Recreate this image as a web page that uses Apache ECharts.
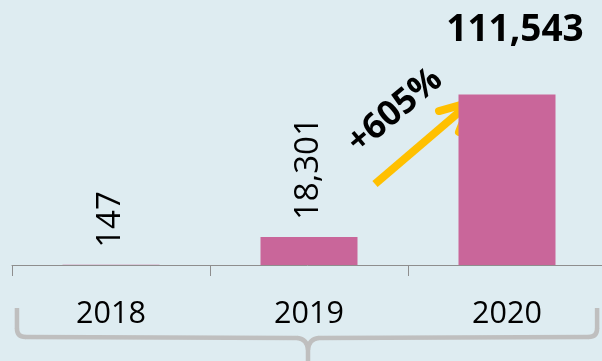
<!DOCTYPE html>
<html>
<head>
<meta charset="utf-8">
<script src="https://cdn.jsdelivr.net/npm/echarts@6/dist/echarts.min.js"></script>
<style>
  html, body { margin: 0; padding: 0; background: #deecf1; }
  #chart { width: 602px; height: 361px; }
</style>
</head>
<body>
<div id="chart"></div>
<script>
// Yearly totals
const years = ['2018', '2019', '2020'];
const totals = [147, 18301, 111543];
const growthText = '+605%';

const FONT = '"Open Sans", "Noto Sans", sans-serif';
const fmt = v => String(v).replace(/\B(?=(\d{3})+(?!\d))/g, ',');

const chart = echarts.init(document.getElementById('chart'), null, { renderer: 'canvas' });

const barData = totals.map((v, i) => {
  if (i === totals.length - 1) {
    // latest year: horizontal bold label well above the bar
    return {
      value: v,
      label: {
        rotate: 0, align: 'center', verticalAlign: 'bottom',
        distance: 46, offset: [8, 0],
        fontWeight: 'bold', fontSize: 37
      }
    };
  }
  return v;
});

chart.setOption({
  backgroundColor: '#deecf1',
  animation: false,
  grid: { left: 12, width: 594, top: 0, bottom: 96, containLabel: false, outerBoundsMode: 'none' },
  xAxis: {
    type: 'category',
    data: years,
    axisLine: { show: true, lineStyle: { color: '#8e8e8e', width: 1 } },
    axisTick: { show: true, length: 11, lineStyle: { color: '#8e8e8e', width: 1 } },
    axisLabel: { color: '#000', fontFamily: FONT, fontSize: 30.5, margin: 34 }
  },
  yAxis: { type: 'value', min: 0, max: 173400, show: false, splitLine: { show: false } },
  series: [{
    type: 'bar',
    data: barData,
    barWidth: 97,
    itemStyle: { color: '#c9669a' },
    label: {
      show: true,
      position: 'top',
      rotate: 90,
      align: 'left',
      verticalAlign: 'middle',
      distance: 17,
      fontFamily: FONT,
      fontSize: 33,
      color: '#000',
      formatter: p => fmt(p.value)
    }
  }]
});

// Annotations placed relative to the plotted bars
const top2020 = chart.convertToPixel({ gridIndex: 0 }, ['2020', totals[2]]);
const axisY = chart.convertToPixel({ gridIndex: 0 }, ['2018', 0])[1];
const c2018 = chart.convertToPixel({ gridIndex: 0 }, ['2018', 0])[0];
const c2020 = top2020[0];
const step = (c2020 - c2018) / 2;

// growth arrow
const tip = [top2020[0] - 36, top2020[1] + 7.5];
const tail = [tip[0] - 96, tip[1] + 82];
const armA = [tip[0] - 32, tip[1] + 9];
const armB = [tip[0] - 12, tip[1] + 30];

// curly brace spanning all categories
const bl = c2018 - step * 0.475;
const br = c2020 + step * 0.455;
const bm = (c2018 + c2020) / 2 - 1;
const bTop = axisY + 43, bY = axisY + 72, bMidY = axisY + 74;
const braceStyle = { stroke: '#bfbfbf', lineWidth: 4.5, fill: null, lineCap: 'butt', lineJoin: 'round' };

function braceHalf(edge, dir) {
  // dir = +1 for the left half, -1 for the right half
  return [
    { type: 'polyline', silent: true, shape: { points: [[edge, bTop], [edge, bY - 8]] }, style: braceStyle },
    { type: 'bezierCurve', silent: true, shape: { x1: edge, y1: bY - 8.5, cpx1: edge, cpy1: bY, x2: edge + dir * 8.5, y2: bY }, style: braceStyle },
    { type: 'polyline', silent: true, shape: { points: [[edge + dir * 8, bY], [bm - dir * 10, bMidY - 1]] }, style: braceStyle },
    { type: 'bezierCurve', silent: true, shape: { x1: bm - dir * 10.5, y1: bMidY - 1, cpx1: bm - dir * 1, cpy1: bMidY, x2: bm, y2: bMidY + 10.5 }, style: braceStyle }
  ];
}

chart.setOption({
  graphic: [
    ...braceHalf(bl, 1),
    ...braceHalf(br, -1),
    { type: 'polyline', silent: true, shape: { points: [[bm, bMidY + 10], [bm, 361]] }, style: braceStyle },
    {
      type: 'polyline', silent: true,
      shape: { points: [tail, [tip[0] - 3, tip[1] + 2.5]] },
      style: { stroke: '#ffc000', lineWidth: 8, lineCap: 'butt', fill: null }
    },
    {
      type: 'polyline', silent: true,
      shape: { points: [armA, tip, armB] },
      style: { stroke: '#ffc000', lineWidth: 8, lineCap: 'round', lineJoin: 'round', fill: null }
    },
    {
      type: 'text', silent: true,
      x: tip[0] - 76, y: tip[1] + 9,
      rotation: 40 * Math.PI / 180,
      style: {
        text: growthText, fill: '#000',
        font: 'bold 35px ' + FONT,
        align: 'center', verticalAlign: 'middle'
      }
    }
  ]
});
</script>
</body>
</html>
